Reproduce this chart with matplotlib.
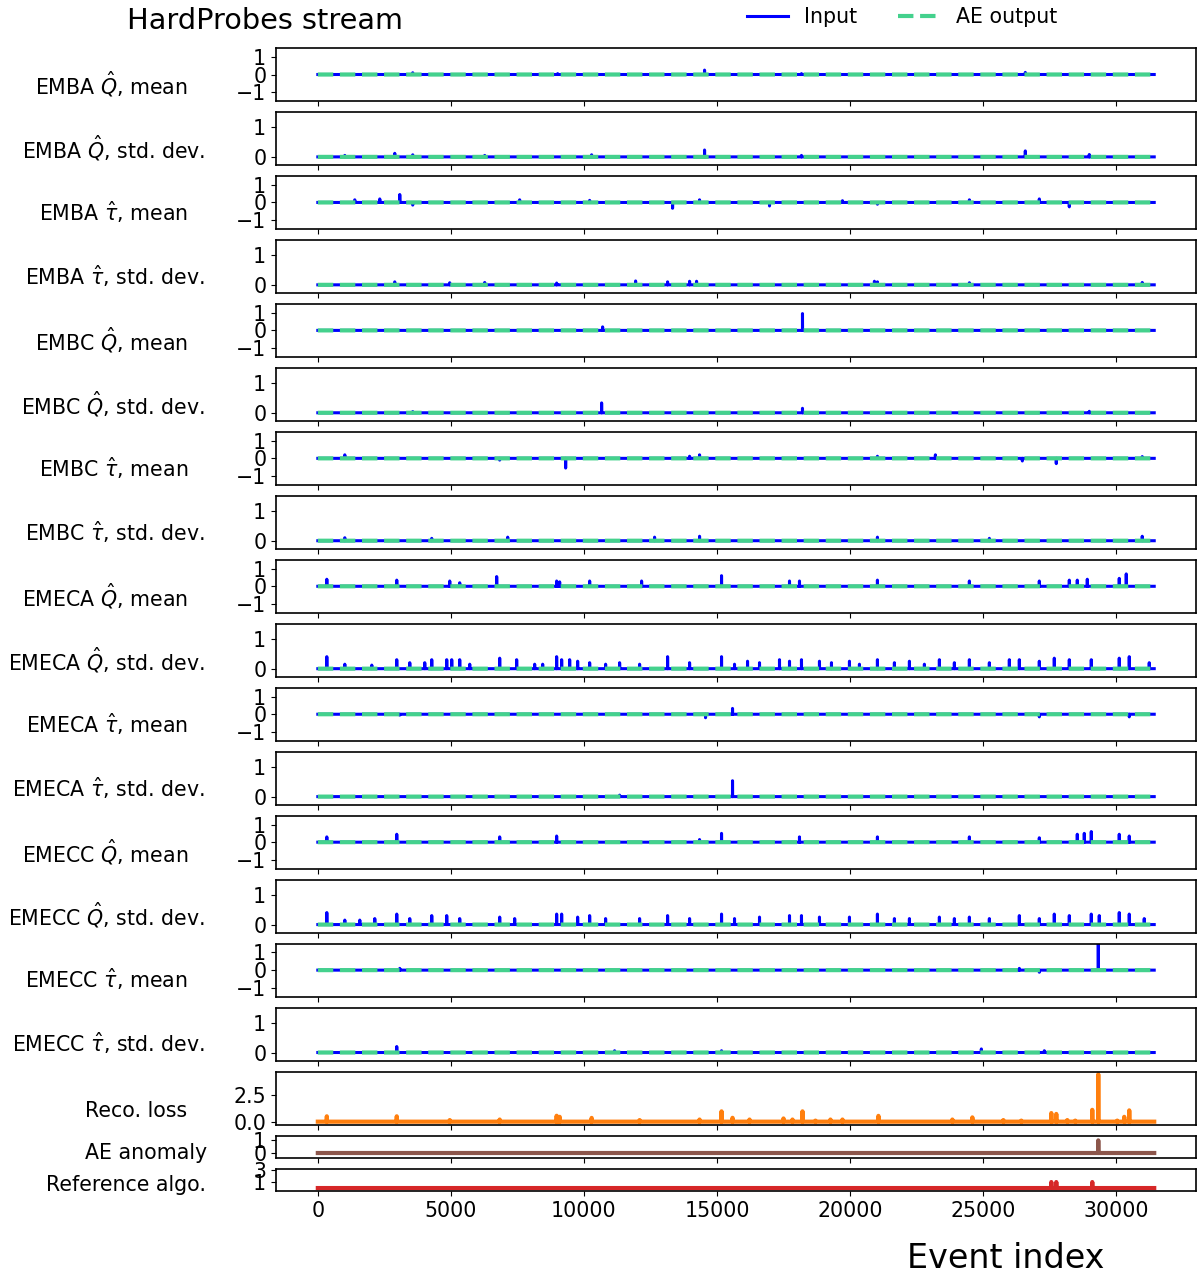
import numpy as np
import matplotlib
matplotlib.use("Agg")
import matplotlib.pyplot as plt

# number of events in the stream
n_events = 31430

# input spikes per feature: (event index, value); baseline is 0
emba_q_mean = [(3567, 0.1), (9012, 0.05), (14532, 0.25), (18174, 0.05), (26585, 0.12)]
emba_q_std = [(1014, 0.05), (2891, 0.12), (3567, 0.07), (6271, 0.05), (10289, 0.07),
              (14532, 0.23), (18174, 0.05), (26585, 0.2), (28989, 0.08)]
emba_tau_mean = [(1389, 0.15), (2328, 0.2), (3079, 0.45), (3567, -0.15), (7585, 0.15),
                 (10214, 0.12), (13330, -0.33), (14344, 0.15), (16973, -0.2), (19714, 0.1),
                 (21028, -0.1), (24483, 0.15), (27111, 0.2), (28238, -0.25)]
emba_tau_std = [(2891, 0.1), (4957, 0.07), (6271, 0.08), (8974, 0.06), (11941, 0.13),
                (13143, 0.1), (13969, 0.12), (14232, 0.12), (20915, 0.12), (21028, 0.1),
                (24483, 0.07), (30979, 0.08)]
embc_q_mean = [(10702, 0.2), (18212, 0.95)]
embc_q_std = [(3567, 0.04), (10664, 0.33), (18212, 0.15), (28989, 0.05)]
embc_tau_mean = [(1014, 0.2), (6834, -0.1), (9312, -0.55), (13969, 0.12), (14344, 0.2),
                 (21028, 0.12), (23206, 0.2), (26473, -0.15), (27749, -0.3), (30979, 0.1)]
embc_tau_std = [(1014, 0.1), (4281, 0.08), (7135, 0.12), (12654, 0.12), (14344, 0.15),
                (21028, 0.12), (25234, 0.08), (30979, 0.15)]
emeca_q_mean = [(338, 0.4), (2966, 0.35), (4957, 0.3), (5332, 0.2), (6721, 0.55),
                (8974, 0.3), (9087, 0.25), (10214, 0.3), (12166, 0.3), (15170, 0.6),
                (17724, 0.3), (18099, 0.3), (21028, 0.35), (24483, 0.3), (27111, 0.3),
                (28238, 0.35), (28538, 0.35), (28914, 0.4), (30115, 0.45), (30378, 0.7)]
emeca_q_std = [(338, 0.4), (1014, 0.15), (2028, 0.12), (2966, 0.3), (3455, 0.2),
               (4018, 0.2), (4281, 0.3), (4844, 0.3), (5032, 0.3), (5332, 0.3),
               (5708, 0.15), (6834, 0.35), (7472, 0.3), (8148, 0.15), (8449, 0.15),
               (8974, 0.4), (9162, 0.3), (9463, 0.3), (9763, 0.25), (10214, 0.2),
               (10814, 0.15), (11340, 0.2), (12091, 0.15), (13143, 0.4), (13969, 0.2),
               (15170, 0.4), (15658, 0.15), (16147, 0.25), (16597, 0.2), (17348, 0.3),
               (17724, 0.25), (18174, 0.3), (18850, 0.25), (19301, 0.2), (19977, 0.25),
               (20352, 0.15), (21028, 0.3), (21666, 0.2), (22230, 0.25), (22793, 0.15),
               (23356, 0.3), (23919, 0.2), (24483, 0.3), (25234, 0.2), (25985, 0.3),
               (26360, 0.3), (27111, 0.25), (27674, 0.35), (28238, 0.3), (29064, 0.3),
               (30115, 0.35), (30491, 0.4), (31242, 0.2)]
emeca_tau_mean = [(3079, -0.05), (14569, -0.2), (15583, 0.33), (27111, -0.15), (30491, -0.15)]
emeca_tau_std = [(11340, 0.05), (15583, 0.53)]
emecc_q_mean = [(338, 0.3), (2966, 0.45), (6834, 0.3), (8974, 0.35), (14344, 0.15),
                (15170, 0.5), (18099, 0.3), (21028, 0.3), (24483, 0.3), (27111, 0.25),
                (28538, 0.45), (28801, 0.5), (29064, 0.6), (30115, 0.45), (30491, 0.35)]
emecc_q_std = [(338, 0.4), (1014, 0.15), (1577, 0.15), (2140, 0.2), (2966, 0.35),
               (3455, 0.2), (4281, 0.3), (4844, 0.3), (5332, 0.2), (6834, 0.25),
               (7397, 0.2), (8974, 0.35), (9162, 0.35), (9763, 0.25), (10214, 0.3),
               (10814, 0.2), (12091, 0.2), (13143, 0.3), (13969, 0.2), (15170, 0.35),
               (15658, 0.2), (16597, 0.25), (17724, 0.3), (18174, 0.3), (18850, 0.25),
               (19977, 0.25), (21028, 0.35), (21666, 0.2), (22230, 0.2), (23356, 0.25),
               (23919, 0.2), (24483, 0.25), (25234, 0.2), (26360, 0.3), (27111, 0.2),
               (27674, 0.35), (28238, 0.3), (29064, 0.35), (29364, 0.3), (30115, 0.4),
               (30491, 0.35), (31054, 0.2)]
emecc_tau_mean = [(3079, 0.1), (26360, 0.1), (27111, -0.12), (29327, 2.0)]
emecc_tau_std = [(2966, 0.2), (11152, 0.06), (15170, 0.06), (24933, 0.12), (27299, 0.06)]

reco_loss = [(338, 0.5), (2966, 0.5), (4957, 0.15), (6834, 0.2), (8974, 0.55),
             (9087, 0.45), (10289, 0.35), (12091, 0.15), (14344, 0.2), (15170, 0.96),
             (15583, 0.36), (16222, 0.2), (17498, 0.3), (17836, 0.2), (18212, 0.96),
             (18700, 0.1), (19263, 0.2), (19714, 0.2), (21066, 0.54), (23844, 0.2),
             (24595, 0.4), (25759, 0.15), (26435, 0.1), (27562, 0.8), (27749, 0.72),
             (28163, 0.15), (28463, 0.1), (29101, 1.1), (29327, 4.4), (30040, 0.1),
             (30303, 0.45), (30491, 1.05)]
ae_anomaly = [(29327, 1)]
reference_algo = [(27562, 1), (27749, 1), (29101, 1)]

feature_labels = [
    r"EMBA $\hat{Q}$, mean", r"EMBA $\hat{Q}$, std. dev.",
    r"EMBA $\hat{\tau}$, mean", r"EMBA $\hat{\tau}$, std. dev.",
    r"EMBC $\hat{Q}$, mean", r"EMBC $\hat{Q}$, std. dev.",
    r"EMBC $\hat{\tau}$, mean", r"EMBC $\hat{\tau}$, std. dev.",
    r"EMECA $\hat{Q}$, mean", r"EMECA $\hat{Q}$, std. dev.",
    r"EMECA $\hat{\tau}$, mean", r"EMECA $\hat{\tau}$, std. dev.",
    r"EMECC $\hat{Q}$, mean", r"EMECC $\hat{Q}$, std. dev.",
    r"EMECC $\hat{\tau}$, mean", r"EMECC $\hat{\tau}$, std. dev.",
]
feature_spikes = [
    emba_q_mean, emba_q_std, emba_tau_mean, emba_tau_std,
    embc_q_mean, embc_q_std, embc_tau_mean, embc_tau_std,
    emeca_q_mean, emeca_q_std, emeca_tau_mean, emeca_tau_std,
    emecc_q_mean, emecc_q_std, emecc_tau_mean, emecc_tau_std,
]


def build_series(spikes):
    """Zero baseline with the listed spikes placed at their event index."""
    y = np.zeros(n_events)
    for ev, val in spikes:
        y[ev] = val
    return y


plt.rcParams['font.size'] = 14.8
plt.rcParams['axes.linewidth'] = 1.2

fig = plt.figure(figsize=(12, 12.77), dpi=100)
gs = fig.add_gridspec(19, 1, height_ratios=[1] * 17 + [0.42, 0.42],
                      left=0.23, right=0.9967, top=0.9624, bottom=0.0673,
                      hspace=0.221)

x = np.arange(n_events)
axes = []
for i in range(19):
    ax = fig.add_subplot(gs[i], sharex=axes[0] if axes else None)
    axes.append(ax)

ae_output = np.zeros(n_events)
for i, (label, spikes) in enumerate(zip(feature_labels, feature_spikes)):
    ax = axes[i]
    l_in, = ax.plot(x, build_series(spikes), color='blue', lw=2.2, label='Input')
    l_out, = ax.plot(x, ae_output, color='#44d18d', lw=3, ls='--', label='AE output')
    if 'mean' in label:
        ax.set_ylim(-1.5, 1.5)
        ax.set_yticks([-1, 0, 1])
        xl = -0.0957
    else:
        ax.set_ylim(-0.27, 1.5)
        ax.set_yticks([0, 1])
        xl = -0.0772
    ax.set_ylabel(label, rotation=0, ha='right', va='center')
    ax.yaxis.set_label_coords(xl, 0.32)
    if i == 0:
        handles = [l_in, l_out]

# reconstruction loss
ax = axes[16]
ax.plot(x, build_series(reco_loss), color='#ff7f0e', lw=3)
ax.set_ylim(-0.27, 4.65)
ax.set_yticks([0, 2.5])
ax.set_ylabel('Reco. loss', rotation=0, ha='right', va='center')
ax.yaxis.set_label_coords(-0.0967, 0.26)

# AE anomaly flag
ax = axes[17]
ax.plot(x, build_series(ae_anomaly), color='#8c564b', lw=3)
ax.set_ylim(-0.38, 1.38)
ax.set_yticks([0, 1])
ax.set_ylabel('AE anomaly', rotation=0, ha='right', va='center')
ax.yaxis.set_label_coords(-0.075, 0.22)

# reference algorithm flag
ax = axes[18]
ax.plot(x, build_series(reference_algo), color='#d62728', lw=3)
ax.set_ylim(-0.5, 3.2)
ax.set_yticks([1, 3])
ax.set_ylabel('Reference algo.', rotation=0, ha='right', va='center')
ax.yaxis.set_label_coords(-0.076, 0.27)

axes[0].set_xticks(np.arange(0, 30001, 5000))
for ax in axes[:-1]:
    ax.tick_params(labelbottom=False)

fig.text(1006 / 1200, 1 - 1258 / 1277, 'Event index', ha='center', va='center', fontsize=24)
fig.text(265 / 1200, 1 - 35 / 1277,
         'Pb+Pb data, $\\sqrt{s_{\\mathrm{NN}}}$ = 5.36 TeV\nHardProbes stream',
         ha='center', va='bottom', fontsize=20.7)
fig.legend(handles, ['Input', 'AE output'], loc='center', ncol=2, frameon=False,
           bbox_to_anchor=(902 / 1200, 1 - 17 / 1277), fontsize=14.8)

fig.savefig('out.png', dpi=100)
